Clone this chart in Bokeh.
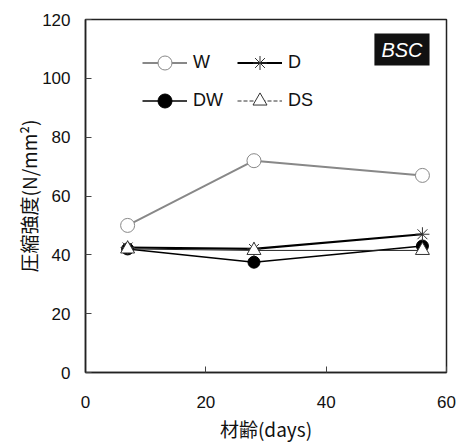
from bokeh.plotting import figure
from bokeh.models import Range1d, Legend, LegendItem, Label, FixedTicker
from bokeh.embed import file_html
from bokeh.resources import INLINE

days = [7, 28, 56]
W = [50, 72, 67]
D = [42.5, 42, 47]
DW = [42, 37.5, 43]
DS = [42, 41.5, 41.5]
x_ticks = [0, 20, 40, 60]
y_ticks = [0, 20, 40, 60, 80, 100, 120]

FONT = "Liberation Sans"
JP = "Noto Sans CJK JP"

p = figure(width=459, height=444, output_backend="svg", toolbar_location=None,
           x_range=Range1d(0, 60), y_range=Range1d(0, 120),
           min_border_left=85, min_border_top=19, min_border_right=13, min_border_bottom=70)
p.grid.visible = False
p.outline_line_color = "#222222"
p.outline_line_width = 1.5

for ax in (p.xaxis[0], p.yaxis[0]):
    ax.major_tick_in = 6
    ax.major_tick_out = 0
    ax.minor_tick_line_color = None
    ax.axis_line_color = "#222222"
    ax.axis_line_width = 1.5
    ax.major_tick_line_color = "#444444"
    ax.major_label_text_font = FONT
    ax.major_label_text_font_size = "17px"
    ax.major_label_text_color = "#111111"
    ax.axis_label_text_font_style = "normal"
    ax.axis_label_text_color = "#111111"

p.xaxis[0].ticker = FixedTicker(ticks=x_ticks)
p.yaxis[0].ticker = FixedTicker(ticks=y_ticks)
p.xaxis[0].major_label_standoff = 23
p.yaxis[0].major_label_standoff = 15
p.xaxis[0].axis_label = "材齢(days)"
p.yaxis[0].axis_label = "圧縮強度(N/mm²)"
p.xaxis[0].axis_label_text_font = JP
p.yaxis[0].axis_label_text_font = JP
p.xaxis[0].axis_label_text_font_size = "19px"
p.yaxis[0].axis_label_text_font_size = "19px"
p.xaxis[0].axis_label_standoff = 4
p.yaxis[0].axis_label_standoff = -3

# DW
l_dw = p.line(days, DW, line_color="black", line_width=1.4)
m_dw = p.scatter(days, DW, marker="circle", size=12, fill_color="black", line_color="black")
# D
l_d = p.line(days, D, line_color="black", line_width=2.2)
m_d = p.scatter(days, D, marker="asterisk", size=14, line_color="#333333", line_width=1)
# DS
l_ds = p.line(days, DS, line_color="#222222", line_width=1)
m_ds = p.scatter(days, DS, marker="triangle", size=14, fill_color="white", line_color="#333333", line_width=1)
# W
l_w = p.line(days, W, line_color="#888888", line_width=2)
m_w = p.scatter(days, W, marker="circle", size=14, fill_color="white", line_color="#888888", line_width=1)

# legend-only dashed line for DS (drawn off-range)
l_ds_leg = p.line([-20, -10], [-20, -10], line_color="#333333", line_width=1, line_dash="4 2")

legend = Legend(items=[
    LegendItem(label="W", renderers=[l_w, m_w]),
    LegendItem(label="DW", renderers=[l_dw, m_dw]),
    LegendItem(label="D", renderers=[l_d, m_d]),
    LegendItem(label="DS", renderers=[l_ds_leg, m_ds]),
], ncols=2, location=(57, 254), glyph_width=45, glyph_height=35, label_height=35,
   label_standoff=6, label_width=41, spacing=3, padding=0, margin=0,
   border_line_color=None, background_fill_alpha=0,
   label_text_font=FONT, label_text_font_size="18px", label_text_color="#111111")
p.add_layout(legend)

p.add_layout(Label(x=52.6, y=109.8, text="BSC", text_align="center", text_baseline="middle",
                   text_color="white", text_font=FONT, text_font_style="italic",
                   text_font_size="20px", background_fill_color="#111111",
                   padding=(7, 5)))

open("out.html", "w").write(file_html(p, INLINE))
